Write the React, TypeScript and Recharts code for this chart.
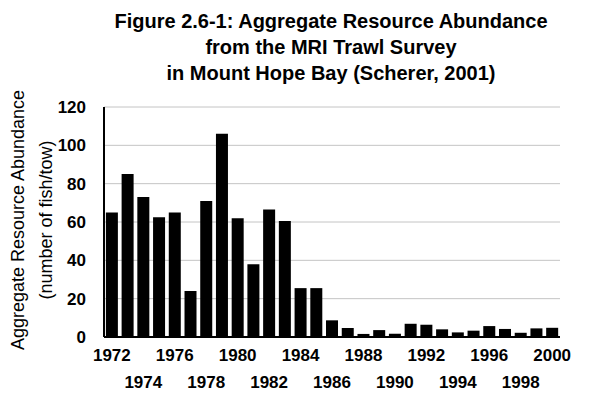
import { Bar, BarChart, CartesianGrid, XAxis, YAxis } from "recharts";

const YEARS = [
  1972, 1973, 1974, 1975, 1976, 1977, 1978, 1979, 1980, 1981, 1982, 1983, 1984, 1985, 1986,
  1987, 1988, 1989, 1990, 1991, 1992, 1993, 1994, 1995, 1996, 1997, 1998, 1999, 2000,
];
const ABUNDANCE = [
  65, 85, 73, 62.5, 65, 24, 71, 106, 62, 38, 66.5, 60.5, 25.5, 25.5, 8.7,
  4.7, 1.6, 3.6, 1.7, 6.9, 6.4, 4.0, 2.4, 3.3, 5.7, 4.2, 2.2, 4.5, 4.8,
];
const Y_TICKS = [0, 20, 40, 60, 80, 100, 120];
const TITLE_LINES = [
  "Figure 2.6-1: Aggregate Resource Abundance",
  "from the MRI Trawl Survey",
  "in Mount Hope Bay (Scherer, 2001)",
];

const data = YEARS.map((year, i) => ({ year, value: ABUNDANCE[i] }));

const FONT = "'Liberation Sans', Arial, sans-serif";

function YearTick(props: any) {
  const { x, y, payload } = props;
  const year = Number(payload.value);
  if (year % 2 !== 0) return null;
  const row = year % 4 === 0 ? 0 : 1;
  return (
    <text
      x={x}
      y={y + 16 + row * 27}
      textAnchor="middle"
      fontFamily={FONT}
      fontWeight="bold"
      fontSize={17}
      fill="#000"
    >
      {year}
    </text>
  );
}

function AxisTitle(props: any) {
  const vb = props.viewBox || {};
  const cy = (vb.y ?? 107) + (vb.height ?? 230) / 2 - 2;
  return (
    <g fontFamily={FONT} fontSize={18} fill="#000">
      <text x={24} y={cy} textAnchor="middle" transform={`rotate(-90, 24, ${cy})`}>
        Aggregate Resource Abundance
      </text>
      <text x={52} y={cy} textAnchor="middle" transform={`rotate(-90, 52, ${cy})`}>
        (number of fish/tow)
      </text>
    </g>
  );
}

export default function App() {
  return (
    <div style={{ position: "absolute", left: 0, top: 0, width: 600, height: 397, background: "#fff" }}>
      <div
        style={{
          position: "absolute",
          left: 62,
          top: 8,
          width: 538,
          textAlign: "center",
          fontFamily: FONT,
          fontWeight: "bold",
          fontSize: 20,
          lineHeight: "26px",
          color: "#000",
        }}
      >
        {TITLE_LINES.map((line) => (
          <div key={line}>{line}</div>
        ))}
      </div>
      <BarChart
        width={600}
        height={397}
        data={data}
        margin={{ top: 107, right: 40, bottom: 0, left: 0 }}
        barCategoryGap="12%"
      >
        <CartesianGrid vertical={false} stroke="#c4c4c4" strokeWidth={1} />
        <XAxis
          dataKey="year"
          interval={0}
          height={60}
          axisLine={{ stroke: "#000", strokeWidth: 2 }}
          tickLine={false}
          tick={<YearTick />}
        />
        <YAxis
          width={104}
          domain={[0, 120]}
          ticks={Y_TICKS}
          axisLine={{ stroke: "#000", strokeWidth: 2 }}
          tickLine={false}
          tickMargin={12}
          tick={{ fontFamily: FONT, fontWeight: "bold", fontSize: 17, fill: "#000" }}
          label={{ content: AxisTitle }}
        />
        <Bar dataKey="value" fill="#000" isAnimationActive={false} />
      </BarChart>
    </div>
  );
}
